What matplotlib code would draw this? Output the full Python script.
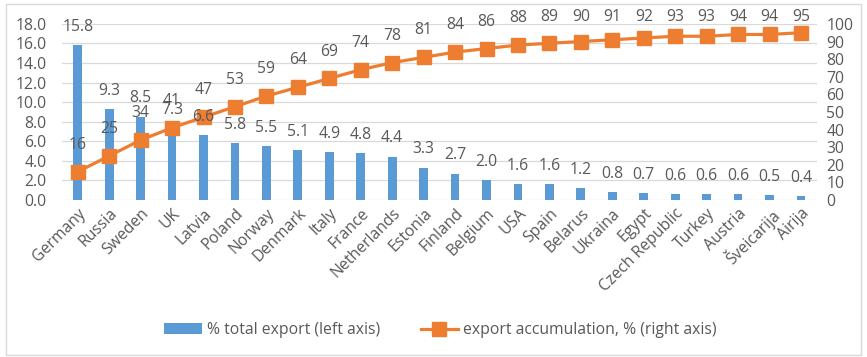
import numpy as np
import matplotlib.pyplot as plt
from matplotlib.patches import Rectangle
from matplotlib.transforms import blended_transform_factory

countries = ['Germany', 'Russia', 'Sweden', 'UK', 'Latvia', 'Poland', 'Norway',
             'Denmark', 'Italy', 'France', 'Netherlands', 'Estonia', 'Finland',
             'Belgium', 'USA', 'Spain', 'Belarus', 'Ukraina', 'Egypt',
             'Czech Republic', 'Turkey', 'Austria', 'Šveicarija', 'Airija']
share = [15.8, 9.3, 8.5, 7.3, 6.6, 5.8, 5.5, 5.1, 4.9, 4.8, 4.4, 3.3, 2.7,
         2.0, 1.6, 1.6, 1.2, 0.8, 0.7, 0.6, 0.6, 0.6, 0.5, 0.4]
accum = [16, 25, 34, 41, 47, 53, 59, 64, 69, 74, 78, 81, 84, 86, 88, 89, 90,
         91, 92, 93, 93, 94, 94, 95]

plt.rcParams['font.family'] = ['Open Sans', 'DejaVu Sans']
txt = '#595959'
blue = '#5B9BD5'
orange = '#ED7D31'
fs = 11.3

fig = plt.figure(figsize=(8.67, 3.57), dpi=100)
ax = fig.add_axes([0.0715, 0.44, 0.8705, 0.493])
ax2 = ax.twinx()

x = np.arange(len(countries))
bars = ax.bar(x, share, width=0.28, color=blue, zorder=2,
              label='% total export (left axis)')
ax.set_ylim(0, 18)
ax.set_yticks(np.arange(0, 19, 2))
ax.set_yticklabels(['%.1f' % v for v in np.arange(0, 19, 2)])
ax.set_xlim(-0.5, len(countries) - 0.5)
ax.grid(axis='y', color='#D9D9D9', linewidth=0.9, zorder=0)
ax.set_axisbelow(True)
ax.set_xticks(x)
ax.set_xticklabels(countries, rotation=45, ha='right', rotation_mode='anchor')

line, = ax2.plot(x, accum, color=orange, linewidth=2.3, marker='s',
                 markersize=9.5, zorder=3,
                 label='export accumulation, % (right axis)')
ax2.set_ylim(0, 100)
ax2.set_yticks(np.arange(0, 101, 10))

# labels: x in data units, y in axes fraction so they can be kept below the top;
# all drawn on ax2 so they sit above the line
tr = blended_transform_factory(ax.transData, ax.transAxes)
for xi, v in zip(x, share):
    ax2.text(xi, v / 18 + 0.105, '%.1f' % v, transform=tr, ha='center',
             va='center', fontsize=fs, color=txt, zorder=4)
for xi, v in zip(x, accum):
    ax2.text(xi, min(v / 100 + 0.153, 1.04), '%d' % v, transform=tr,
             ha='center', va='center', fontsize=fs, color=txt, zorder=4)

for a in (ax, ax2):
    for s in a.spines.values():
        s.set_visible(False)
    a.tick_params(length=0, labelsize=fs, colors=txt)
ax.tick_params(axis='x', pad=4)
ax.tick_params(axis='y', pad=11)
ax2.tick_params(axis='y', pad=7)

fig.legend([bars, line], [bars.get_label(), line.get_label()],
           loc='center', bbox_to_anchor=(0.508, 0.075), ncol=2, frameon=False,
           fontsize=fs, labelcolor=txt, handlelength=2.4, columnspacing=2.6,
           handletextpad=0.3)

fig.patches.append(Rectangle((0.007, 0.006), 0.986, 0.984, transform=fig.transFigure,
                             fill=False, edgecolor='#D9D9D9', linewidth=1))

fig.savefig('out.png', dpi=100)
